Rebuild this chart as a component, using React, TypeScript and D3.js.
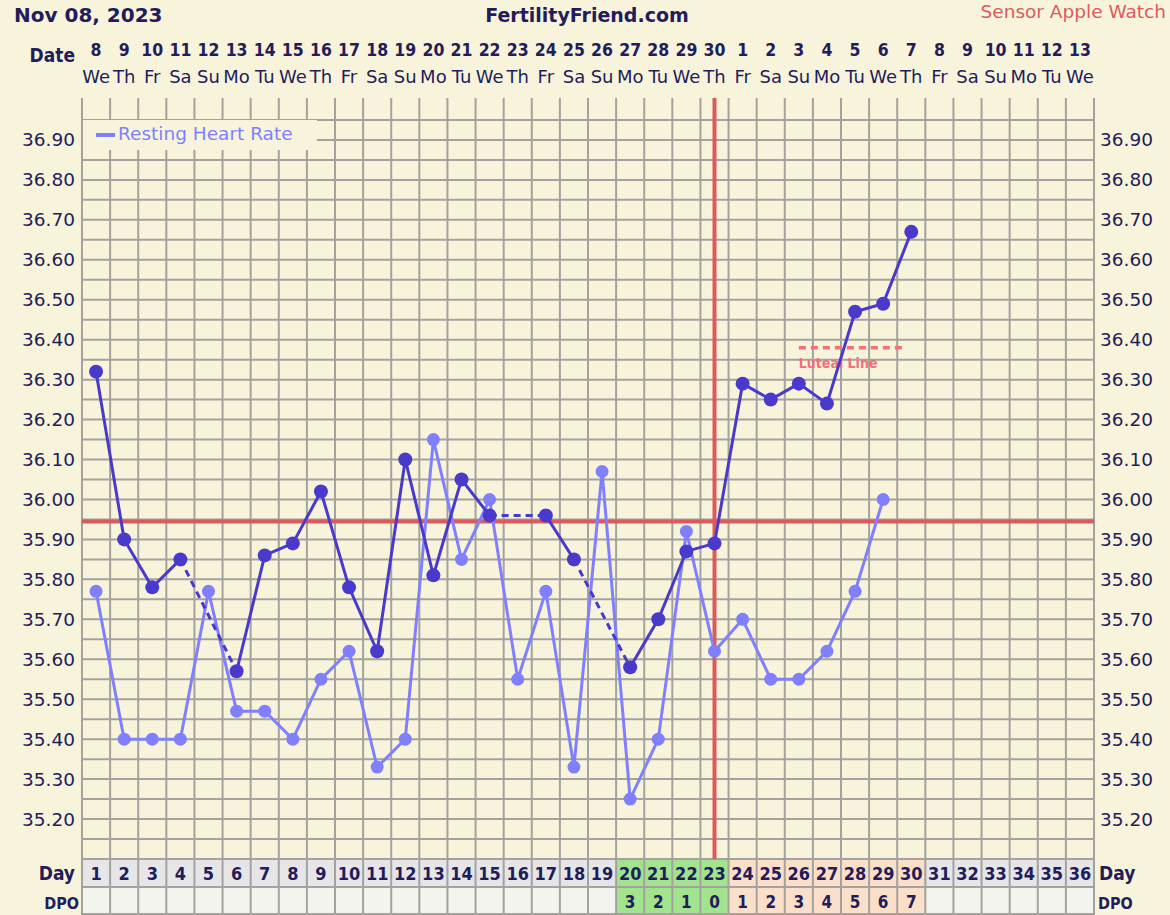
import React from "react";
import * as d3 from "d3";

// chart values
const cycleDays = d3.range(1, 37);
const dateNums = [8, 9, 10, 11, 12, 13, 14, 15, 16, 17, 18, 19, 20, 21, 22, 23, 24, 25, 26, 27, 28, 29, 30, 1, 2, 3, 4, 5, 6, 7, 8, 9, 10, 11, 12, 13];
const weekDays = ["We", "Th", "Fr", "Sa", "Su", "Mo", "Tu"];
const temps: (number | null)[] = [36.32, 35.90, 35.78, 35.85, null, 35.57, 35.86, 35.89, 36.02, 35.78, 35.62, 36.10, 35.81, 36.05, 35.96, null, 35.96, 35.85, null, 35.58, 35.70, 35.87, 35.89, 36.29, 36.25, 36.29, 36.24, 36.47, 36.49, 36.67];
const restingHR = [35.77, 35.40, 35.40, 35.40, 35.77, 35.47, 35.47, 35.40, 35.55, 35.62, 35.33, 35.40, 36.15, 35.85, 36.00, 35.55, 35.77, 35.33, 36.07, 35.25, 35.40, 35.92, 35.62, 35.70, 35.55, 35.55, 35.62, 35.77, 36.00];
const yTicks = [36.9, 36.8, 36.7, 36.6, 36.5, 36.4, 36.3, 36.2, 36.1, 36.0, 35.9, 35.8, 35.7, 35.6, 35.5, 35.4, 35.3, 35.2];
const coverline = 35.945;
const ovulationDay = 23;
const lutealLine = 36.38;
const lutealFrom = 26;
const lutealTo = 30;
const fertileDays = [20, 21, 22, 23];
const dpoStart = 20;

const W = 1170, H = 915;
const BG = "#F8F4DB";
const GRID = "#A3A29E";
const NAVY = "#221D5A";
const DARK = "#4A3ACB";
const LIGHT = "#8080FF";
const RED = "#DB5A5E";
const FONT = "'DejaVu Sans', Verdana, sans-serif";
const COND = "'DejaVu Sans Condensed', 'DejaVu Sans', sans-serif";

const App = () => {
  const x = d3.scaleBand<number>().domain(cycleDays).range([82, 1094]);
  const bw = x.bandwidth();
  const cx = (d: number) => (x(d) as number) + bw / 2;
  const y = d3.scaleLinear().domain([35.1, 37.0]).range([859, 100]);

  const gridYs = d3.range(0, 38).map((i) => 35.1 + i * 0.05).filter((v) => v > 35.11 && v < 36.99);

  const tempPts = temps.map((t, i) => ({ day: i + 1, v: t }));
  const solid = d3.line<{ day: number; v: number | null }>()
    .defined((d) => d.v != null)
    .x((d) => cx(d.day))
    .y((d) => y(d.v as number));

  // dashed bridges over missing days
  const bridges: [number, number, number, number][] = [];
  let prev: { day: number; v: number } | null = null;
  tempPts.forEach((p) => {
    if (p.v == null) return;
    if (prev && p.day - prev.day > 1) bridges.push([cx(prev.day), y(prev.v), cx(p.day), y(p.v)]);
    prev = { day: p.day, v: p.v };
  });

  const hrLine = d3.line<number>()
    .x((_, i) => cx(i + 1))
    .y((d) => y(d));

  const cellFill = (d: number) => {
    if (fertileDays.includes(d)) return "#A2E38E";
    if (d > ovulationDay && d <= temps.length) return "#FCDFC8";
    return "#E6E5E8";
  };
  const dpoFill = (d: number) => {
    if (fertileDays.includes(d)) return "#A2E38E";
    if (d > ovulationDay && d <= temps.length) return "#FCDFC8";
    return "#F4F4EE";
  };
  const dpoLabel = (d: number) => {
    if (d < dpoStart || d > temps.length) return "";
    if (d <= ovulationDay) return String(ovulationDay - d);
    return String(d - ovulationDay);
  };

  return (
    <svg width={W} height={H} style={{ position: "absolute", left: 0, top: 0 }} fontFamily={FONT}>
      <rect width={W} height={H} fill={BG} />

      {/* header */}
      <text x={14} y={22} fontSize={20} fontWeight="bold" fill={NAVY}>Nov 08, 2023</text>
      <text x={587} y={22} fontSize={19} fontWeight="bold" fill={NAVY} textAnchor="middle">FertilityFriend.com</text>
      <text x={1166} y={18} fontSize={18.5} fill="#DC5A5E" textAnchor="end">Sensor Apple Watch</text>

      <text x={75} y={62} fontSize={19} fontWeight="bold" fill={NAVY} textAnchor="end" fontFamily={COND}>Date</text>
      {cycleDays.map((d, i) => (
        <g key={"dt" + d}>
          <text x={cx(d)} y={56} fontSize={17.5} fontWeight="bold" fill={NAVY} textAnchor="middle" fontFamily={COND}>{dateNums[i]}</text>
          <text x={cx(d)} y={83} fontSize={18} fill={NAVY} textAnchor="middle">{weekDays[i % 7]}</text>
        </g>
      ))}

      {/* bottom rows */}
      {cycleDays.map((d) => (
        <g key={"row" + d}>
          <rect x={x(d)} y={859} width={bw} height={28} fill={cellFill(d)} />
          <rect x={x(d)} y={887} width={bw} height={28} fill={dpoFill(d)} />
          <text x={cx(d)} y={880} fontSize={18} fontWeight="bold" fill={NAVY} textAnchor="middle" fontFamily={COND}>{d}</text>
          <text x={cx(d)} y={908} fontSize={17} fontWeight="bold" fill={NAVY} textAnchor="middle" fontFamily={COND}>{dpoLabel(d)}</text>
        </g>
      ))}
      <text x={75} y={880} fontSize={19} fontWeight="bold" fill={NAVY} textAnchor="end" fontFamily={COND}>Day</text>
      <text x={79} y={909} fontSize={16} fontWeight="bold" fill={NAVY} textAnchor="end" fontFamily={COND}>DPO</text>
      <text x={1099} y={880} fontSize={19} fontWeight="bold" fill={NAVY} fontFamily={COND}>Day</text>
      <text x={1098} y={909} fontSize={16} fontWeight="bold" fill={NAVY} fontFamily={COND}>DPO</text>

      {/* grid */}
      {gridYs.map((v) => (
        <line key={"h" + v.toFixed(2)} x1={82} x2={1094} y1={y(v)} y2={y(v)} stroke={GRID} strokeWidth={2} />
      ))}
      {[859, 887, 914].map((yy) => (
        <line key={"hr" + yy} x1={82} x2={1094} y1={yy} y2={yy} stroke={GRID} strokeWidth={2} />
      ))}
      {d3.range(0, 37).map((k) => {
        const xx = 82 + k * bw;
        return <line key={"v" + k} x1={xx} x2={xx} y1={98} y2={915} stroke={GRID} strokeWidth={2} />;
      })}

      {/* axis labels */}
      {yTicks.map((v) => (
        <g key={"yt" + v}>
          <text x={75} y={y(v) + 6.5} fontSize={18.5} fill={NAVY} textAnchor="end">{v.toFixed(2)}</text>
          <text x={1100} y={y(v) + 6.5} fontSize={18.5} fill={NAVY}>{v.toFixed(2)}</text>
        </g>
      ))}

      {/* legend */}
      <rect x={83} y={120} width={234} height={30} fill={BG} />
      <rect x={96} y={133} width={19} height={4} fill={LIGHT} />
      <text x={118} y={140} fontSize={18.5} fill={LIGHT}>Resting Heart Rate</text>

      {/* coverline and ovulation */}
      <line x1={82} x2={1094} y1={y(coverline)} y2={y(coverline)} stroke={RED} strokeWidth={4} />
      <line x1={cx(ovulationDay)} x2={cx(ovulationDay)} y1={98} y2={859} stroke={RED} strokeWidth={4} />

      {/* luteal line */}
      <line x1={cx(lutealFrom)} x2={cx(lutealTo) - 5} y1={y(lutealLine)} y2={y(lutealLine)} stroke="#F2707A" strokeWidth={3.5} strokeDasharray="7,5" />
      <text x={cx(lutealFrom)} y={y(lutealLine) + 20} fontSize={14} fontWeight="bold" fill="#F2707A" fontFamily={COND}>Luteal Line</text>

      {/* resting heart rate */}
      <path d={hrLine(restingHR) || ""} fill="none" stroke={LIGHT} strokeWidth={3} />
      {restingHR.map((v, i) => (
        <circle key={"hr" + i} cx={cx(i + 1)} cy={y(v)} r={6.5} fill={LIGHT} />
      ))}

      {/* temperatures */}
      {bridges.map((b, i) => (
        <line key={"br" + i} x1={b[0]} y1={b[1]} x2={b[2]} y2={b[3]} stroke={DARK} strokeWidth={3} strokeDasharray="7,5" />
      ))}
      <path d={solid(tempPts) || ""} fill="none" stroke={DARK} strokeWidth={3} />
      {tempPts.filter((p) => p.v != null).map((p) => (
        <circle key={"t" + p.day} cx={cx(p.day)} cy={y(p.v as number)} r={7} fill={DARK} />
      ))}
    </svg>
  );
};

export default App;
